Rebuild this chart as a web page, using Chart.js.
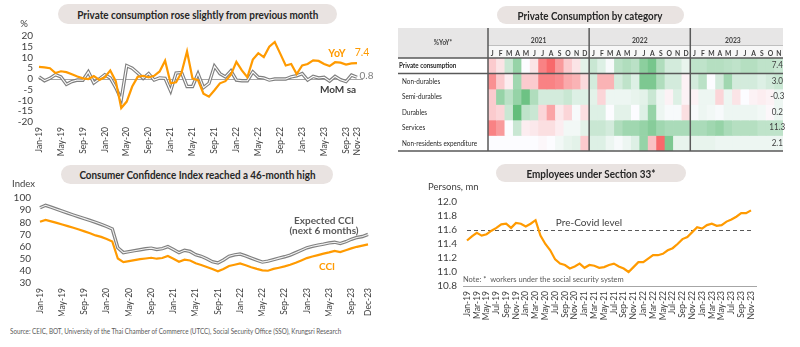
<!DOCTYPE html>
<html>
<head>
<meta charset="utf-8">
<script src="https://cdn.jsdelivr.net/npm/chart.js@4"></script>
<style>
  body { margin: 0; background: #fff; font-family: Lato, "Open Sans", sans-serif; }
  #page { position: relative; width: 800px; height: 347px; overflow: hidden; }
  .pill { position: absolute; z-index: 2; background: #e9e3e1; border-radius: 10px;
          display: flex; align-items: center; justify-content: center;
          font-weight: 700; color: #262626; font-size: 11.5px; white-space: nowrap; }
  .pill span, #source span { display: inline-block; }
  .box { position: absolute; }
  #source { position: absolute; left: 10px; top: 326px; font-size: 8px; color: #595959; white-space: nowrap; }
  #source span { transform-origin: left center; }
</style>
</head>
<body>
<div id="page">
  <canvas class="box" id="c1" width="395" height="140" style="left:0;top:18px"></canvas>
  <canvas class="box" id="c2" width="390" height="128" style="left:398px;top:26px"></canvas>
  <canvas class="box" id="c3" width="395" height="140" style="left:0;top:176px"></canvas>
  <canvas class="box" id="c4" width="400" height="145" style="left:400px;top:180px"></canvas>

  <div class="pill" style="left:58px;top:4px;width:279px;height:20px"><span data-w="241">Private consumption rose slightly from previous month</span></div>
  <div class="pill" style="left:497px;top:6px;width:187px;height:18px"><span data-w="145">Private Consumption by category</span></div>
  <div class="pill" style="left:61px;top:165px;width:272px;height:19px"><span data-w="236">Consumer Confidence Index reached a 46-month high</span></div>
  <div class="pill" style="left:496px;top:164px;width:190px;height:18px"><span data-w="129">Employees under Section 33*</span></div>

  <div id="source"><span data-w="331">Source: CEIC, BOT, University of the Thai Chamber of Commerce (UTCC), Social Security Office (SSO), Krungsri Research</span></div>
</div>
<script>
// ---- data ----
const MONTH_NAMES = ['Jan','Feb','Mar','Apr','May','Jun','Jul','Aug','Sep','Oct','Nov','Dec'];
function monthRange(startYear, count) {
  const out = [];
  for (let i = 0; i < count; i++) {
    out.push(MONTH_NAMES[i % 12] + '-' + String(startYear + Math.floor(i / 12)).slice(2));
  }
  return out;
}

// private consumption, % (Jan-19 .. Nov-23)
const pcMonths = monthRange(2019, 59);
const pcYoY = [5.6,5.4,5.0,2.8,3.6,3.2,2.2,1.2,0.3,0.0,1.4,-0.4,
  0.8,4.0,-1.0,-13.5,-10.5,-3.5,1.0,1.5,0.8,1.5,3.5,8.5,
  -2.0,-1.5,3.0,12.8,0.2,-0.5,-6.8,-8.2,-5.2,-2.0,-1.0,2.0,
  8.0,4.0,0.8,9.0,12.0,10.2,15.0,17.2,11.8,6.3,7.0,2.3,
  6.3,7.0,8.7,8.4,7.0,6.0,7.8,7.6,6.7,7.3,7.4];
const pcMoM = [1.0,-0.8,0.3,2.0,1.0,-2.5,-1.2,-0.5,-0.6,3.3,-1.8,0.0,
  2.0,0.5,-4.0,-9.5,6.2,5.0,2.8,0.3,2.5,-0.5,0.5,0.3,
  -5.5,2.8,3.0,-3.5,-3.5,2.5,-4.0,-2.0,6.0,2.5,1.0,3.8,
  -0.5,-0.8,-0.8,3.3,0.8,0.5,-0.5,0.0,0.0,0.0,1.0,1.5,
  2.5,-0.5,1.2,0.5,0.8,-1.0,1.2,-0.3,-1.2,1.8,0.8];

// heatmap: colour strength (-3 red .. +3 green), Jan-21 .. Nov-23
const heatYears = ['2021','2022','2023'];
const heatLetters = ['J','F','M','A','M','J','J','A','S','O','N','D'];
const heatRowNames = ['Private consumption','Non-durables','Semi-durables','Durables','Services','Non-residents expenditure'];
const heatLatest = ['7.4','3.0','-0.3','0.2','11.3','2.1'];
const heatPrivate = [-1,-0.5,1,2,0,-0.5,-2.5,-3,-2,-1,-0.5,0.5, 1,0.6,0.1,1.3,1.5,1.3,2.2,2.6,1.5,0.8,0.8,0.4, 1.2,1.2,1.4,1.4,1.3,1.2,1.4,1.4,1.2,1.2,1.0];
const heatNonDurables = [-2.2,-1,-0.3,1.8,-1,-1,-2.5,-2.5,-2.3,-1.7,-1.5,-0.7, 0.8,-1.5,-1.5,0.8,1.2,0.6,2.5,2.5,1.5,0.8,0.8,-0.2, 0.8,1.3,0,0.8,1.8,0.8,0.8,0.8,0.6,0.8,1.0];
const heatSemiDurables = [-1,2,1.3,2,2.8,1.5,0.8,0.8,0.8,1,0.6,0.6, 0.5,-0.8,0.3,0.3,0.3,0.4,0.5,1.0,0.3,-0.2,0.6,-0.2, -0.2,0.3,0.3,-0.8,0.3,-0.5,0,-0.2,-0.3,-0.2,0.3];
const heatDurables = [-1,-0.8,1,3,1.2,1,-0.8,-1.8,-0.4,-0.8,0.1,-0.6, 0.6,0.6,0,0.5,0.5,0,0.6,2.0,0.3,0.1,0.1,-0.6, 0.1,0.3,0.2,0.1,0.3,0.3,0.3,0.3,0.2,-0.1,0.3];
const heatServices = [-2.5,-2,0,1,-0.3,-0.4,-0.6,-0.6,-0.3,0.2,0.2,0.5, 1,1,0.8,1.5,1.8,1.8,2,2.3,1.8,1.6,1.6,1.6, 1.6,1.6,1.8,2.0,1.6,1.4,1.4,1.4,1.2,1.2,1.2];
const heatNonResidents = [0,0,0,0,0,0,-0.1,0,0.2,0.4,0.5,-1, 0.6,0.6,0.3,0.1,0.3,0.6,2.0,-1.2,-3,2.5,0.4,0.4, 0.4,0.4,0.4,0.3,0.3,0.3,0.3,0.3,0.3,0.3,0.3];
const heatRows = [heatPrivate, heatNonDurables, heatSemiDurables, heatDurables, heatServices, heatNonResidents];

// consumer confidence (Jan-19 .. Dec-23)
const cciMonths = monthRange(2019, 60);
const cciExpected = [92,94,92.4,90.8,89.2,87.6,86,84.5,83,81.5,80,78.3,
  76.5,74.5,59,55,55.8,56.6,57.4,58.2,58.7,57.6,58.3,60,
  57.5,55,57,56,53.3,52,50,47.5,46.5,49,52,53.2,
  53.8,52.3,50.5,48.8,47.2,48,49.2,50.5,51.6,53,55,57,
  59,60.2,61.2,62,63,63.6,62.5,64,66,67.5,68.3,70];
const cciCurrent = [80.5,82,80.8,79.5,78.2,76.8,75.5,74,72.5,71,69.2,68,
  66.3,64.2,50.2,47.2,48,48.8,49.6,50.2,50.8,50,50.6,52.2,
  50,47.5,49.2,48.5,46.2,44.8,43.2,41.5,39.6,41.6,44,45,
  46.1,44.6,43,41.6,40.4,40.1,41.6,42.6,43.7,45,46.6,48.5,
  50.5,51.8,53,54.2,55.2,56.5,55.5,57,58.5,59.8,60.8,61.8];

// employees under section 33, mn persons (Jan-19 .. Nov-23)
const ssoMonths = monthRange(2019, 59);
const ssoEmployees = [11.45,11.51,11.56,11.52,11.54,11.59,11.63,11.68,11.69,11.63,11.70,11.69,
  11.65,11.69,11.74,11.52,11.40,11.31,11.18,11.12,11.10,11.05,11.08,11.12,
  11.06,11.10,11.09,11.06,11.07,11.10,11.12,11.08,11.05,11.00,11.07,11.14,
  11.14,11.19,11.24,11.24,11.26,11.31,11.34,11.40,11.47,11.50,11.57,11.64,
  11.62,11.67,11.69,11.66,11.67,11.72,11.75,11.79,11.84,11.84,11.88];
const preCovidLevel = 11.6;

// ---- styles ----
const ORANGE = '#ff9a00';
const TEXT = '#404040';
Chart.defaults.font.family = 'Lato';
Chart.defaults.color = TEXT;
Chart.defaults.animation = false;
Chart.defaults.plugins.legend.display = false;
Chart.defaults.plugins.tooltip.enabled = false;

function txt(ctx, s, x, y, o) {
  ctx.save();
  ctx.font = (o.bold ? '700 ' : '400 ') + o.size + 'px Lato';
  ctx.fillStyle = o.color || TEXT;
  ctx.textAlign = o.align || 'center';
  ctx.textBaseline = 'middle';
  ctx.translate(x, y);
  ctx.scale(o.sx || 1, 1);
  ctx.fillText(s, 0, 0);
  ctx.restore();
}

// labels given in page coordinates, shifted into the canvas
function notes(ox, oy, items) {
  return { id: 'notes', afterDraw(chart) {
    items.forEach(it => txt(chart.ctx, it.t, it.x - ox, it.y - oy, it));
  } };
}

function monthTicks(labels, every) {
  return (v, i) => (i % every === 0 || i === labels.length - 1) ? labels[i] : null;
}

function xAxis(labels, every, height, size) {
  return {
    type: 'category', offset: false,
    grid: { display: false, drawTicks: false }, border: { display: false },
    ticks: { autoSkip: false, minRotation: 90, maxRotation: 90, padding: 5,
             font: { size: size }, color: TEXT, callback: monthTicks(labels, every) },
    afterFit: s => { s.height = height; }
  };
}

function yAxis(min, max, step, width, pad, fmt) {
  return {
    min: min, max: max,
    grid: { display: false, drawTicks: false }, border: { display: false },
    ticks: { stepSize: step, autoSkip: false, padding: pad, font: { size: 10 }, color: TEXT, callback: fmt },
    afterFit: s => { s.width = width; }
  };
}

function line(data, color, width, order) {
  return { data: data, borderColor: color, borderWidth: width, pointRadius: 0, tension: 0, fill: false, order: order };
}

// ---- chart 1: private consumption ----
new Chart(document.getElementById('c1'), {
  type: 'line',
  data: { labels: pcMonths, datasets: [
    line(pcYoY, ORANGE, 2.2, 0),
    line(pcMoM, '#ffffff', 1.1, 1),
    line(pcMoM, '#7f7f7f', 3.4, 2)
  ] },
  options: {
    responsive: false,
    layout: { padding: { top: 18, right: 38, left: 0, bottom: 0 } },
    scales: { x: xAxis(pcMonths, 4, 36, 8.5), y: yAxis(-20, 20, 5, 39, 6) }
  },
  plugins: [{ id: 'zero', beforeDatasetsDraw(chart) {
      const { ctx, chartArea, scales } = chart;
      const y = Math.round(scales.y.getPixelForValue(0)) + 0.5;
      ctx.save(); ctx.strokeStyle = '#a6a6a6'; ctx.lineWidth = 1;
      ctx.beginPath(); ctx.moveTo(chartArea.left, y); ctx.lineTo(chartArea.right + 6, y); ctx.stroke();
      ctx.restore();
    } },
    notes(0, 18, [
      { t: '%', x: 24, y: 24, size: 9.5 },
      { t: 'YoY', x: 337, y: 54, size: 10.5, bold: true, color: ORANGE },
      { t: '7.4', x: 362, y: 53, size: 10.5, color: ORANGE },
      { t: '0.8', x: 366.5, y: 76, size: 10, color: '#7f7f7f' },
      { t: 'MoM sa', x: 338, y: 90, size: 10, bold: true, color: TEXT }
    ])]
});

// ---- chart 2: heatmap by category ----
function heatColor(v) {
  const t = Math.max(-1, Math.min(1, v / 3));
  const mid = [252, 252, 255], pos = [99, 190, 123], neg = [248, 105, 107];
  const end = t >= 0 ? pos : neg, a = Math.abs(t);
  return 'rgb(' + mid.map((m, i) => Math.round(m + (end[i] - m) * a)).join(',') + ')';
}
const heatCols = heatPrivate.map((v, i) => heatYears[Math.floor(i / 12)] + '-' + heatLetters[i % 12]);

new Chart(document.getElementById('c2'), {
  type: 'bar',
  data: { labels: heatCols, datasets: heatRows.map((row, r) => ({
    label: heatRowNames[r], data: row.map(() => 1), backgroundColor: row.map(heatColor),
    borderWidth: 0, barPercentage: 1, categoryPercentage: 1
  })) },
  options: {
    responsive: false,
    layout: { padding: { left: 90, top: 32, right: 5, bottom: 3 } },
    scales: {
      x: { display: false, stacked: true },
      y: { display: false, stacked: true, min: 0, max: 6, reverse: true }
    }
  },
  plugins: [{ id: 'heatFrame',
    beforeDraw(chart) {
      const { ctx, chartArea: ca } = chart;
      ctx.save();
      ctx.fillStyle = '#e7e6e6';
      ctx.fillRect(0, 2, ca.left, ca.top - 2);
      ctx.fillRect(ca.left, 2, ca.right - ca.left, 18);
      ctx.fillStyle = '#f7f7f7';
      ctx.fillRect(ca.left, 20, ca.right - ca.left, ca.top - 20);
      ctx.restore();
    },
    afterDraw(chart) {
      const { ctx, chartArea: ca, scales } = chart;
      const xs = scales.x, ys = scales.y;
      const cw = xs.getPixelForValue(1) - xs.getPixelForValue(0);
      // header texts
      txt(ctx, '%YoY*', 45, 17, { size: 7.5, bold: true, sx: 0.85 });
      heatYears.forEach((yr, k) => {
        const x = (xs.getPixelForValue(k * 12) + xs.getPixelForValue(Math.min(k * 12 + 11, heatCols.length - 1))) / 2;
        txt(ctx, yr, k === 2 ? x - cw / 2 + 0.5 : x, 15, { size: 7.5, bold: true, sx: 0.9 });
      });
      heatCols.forEach((c, i) => {
        txt(ctx, heatLetters[i % 12], xs.getPixelForValue(i), 27.5, { size: 7.5, bold: true, sx: 0.9 });
      });
      // row labels and latest values
      heatRowNames.forEach((name, r) => {
        const y = ys.getPixelForValue(r + 0.5);
        txt(ctx, name, r === 0 ? 1 : 4, y, { size: 8, bold: r === 0, align: 'left', sx: r === 0 ? 0.78 : 0.8, color: '#262626' });
        txt(ctx, heatLatest[r], xs.getPixelForValue(heatCols.length - 1) - 1.5, y, { size: 8.5, sx: 0.95 });
      });
      // rules
      ctx.save();
      ctx.strokeStyle = '#bfbfbf'; ctx.lineWidth = 1;
      ctx.beginPath(); ctx.moveTo(ca.left, 19.5); ctx.lineTo(ca.right, 19.5); ctx.stroke();
      ctx.strokeStyle = '#595959'; ctx.lineWidth = 1.5;
      [ca.top, ys.getPixelForValue(1), ca.bottom].forEach(y => {
        ctx.beginPath(); ctx.moveTo(0, y); ctx.lineTo(ca.right, y); ctx.stroke();
      });
      [0, 12, 24].forEach(i => {
        const x = xs.getPixelForValue(i) - cw / 2;
        ctx.beginPath(); ctx.moveTo(x, 2); ctx.lineTo(x, ca.bottom); ctx.stroke();
      });
      ctx.restore();
    } }]
});

// ---- chart 3: consumer confidence ----
new Chart(document.getElementById('c3'), {
  type: 'line',
  data: { labels: cciMonths, datasets: [
    line(cciCurrent, ORANGE, 2.2, 0),
    line(cciExpected, '#f2f2f2', 1.1, 1),
    line(cciExpected, '#808080', 3.4, 2)
  ] },
  options: {
    responsive: false,
    layout: { padding: { top: 22, right: 27, left: 0, bottom: 0 } },
    scales: { x: xAxis(cciMonths, 4, 33, 8.5), y: yAxis(30, 100, 10, 40, 9) }
  },
  plugins: [notes(0, 176, [
    { t: 'Index', x: 23.5, y: 184, size: 9.5 },
    { t: 'Expected CCI', x: 324, y: 221, size: 10, bold: true, color: '#595959' },
    { t: '(next 6 months)', x: 324, y: 231, size: 10, bold: true, color: '#595959' },
    { t: 'CCI', x: 327, y: 267, size: 10, bold: true, color: ORANGE }
  ])]
});

// ---- chart 4: employees under section 33 ----
new Chart(document.getElementById('c4'), {
  type: 'line',
  data: { labels: ssoMonths, datasets: [line(ssoEmployees, ORANGE, 2.2, 0)] },
  options: {
    responsive: false,
    layout: { padding: { top: 22, right: 49, left: 0, bottom: 0 } },
    scales: { x: xAxis(ssoMonths, 2, 39, 8.5), y: yAxis(10.8, 12.0, 0.2, 67, 10, v => v.toFixed(1)) }
  },
  plugins: [{ id: 'refLines', beforeDatasetsDraw(chart) {
      const { ctx, chartArea: ca, scales } = chart;
      ctx.save();
      const yb = Math.round(scales.y.getPixelForValue(10.8)) + 0.5;
      ctx.strokeStyle = '#a6a6a6'; ctx.lineWidth = 1;
      ctx.beginPath(); ctx.moveTo(ca.left - 4, yb); ctx.lineTo(ca.right + 6, yb); ctx.stroke();
      const yp = Math.round(scales.y.getPixelForValue(preCovidLevel)) + 0.5;
      ctx.strokeStyle = '#595959'; ctx.setLineDash([4, 3]);
      ctx.beginPath(); ctx.moveTo(ca.left, yp); ctx.lineTo(ca.right + 1, yp); ctx.stroke();
      ctx.restore();
    } },
    notes(400, 180, [
      { t: 'Persons, mn', x: 428, y: 187, size: 9.5, align: 'left' },
      { t: 'Pre-Covid level', x: 589, y: 223, size: 10 },
      { t: 'Note: *  workers under the social security system', x: 463, y: 280, size: 7.5, align: 'left', color: '#595959' }
    ])]
});

// squeeze the wide headline texts to the widths seen in the reference
document.querySelectorAll('[data-w]').forEach(el => {
  const w = el.getBoundingClientRect().width;
  el.style.transform = 'scaleX(' + (Number(el.dataset.w) / w).toFixed(3) + ')';
});
</script>
</body>
</html>
